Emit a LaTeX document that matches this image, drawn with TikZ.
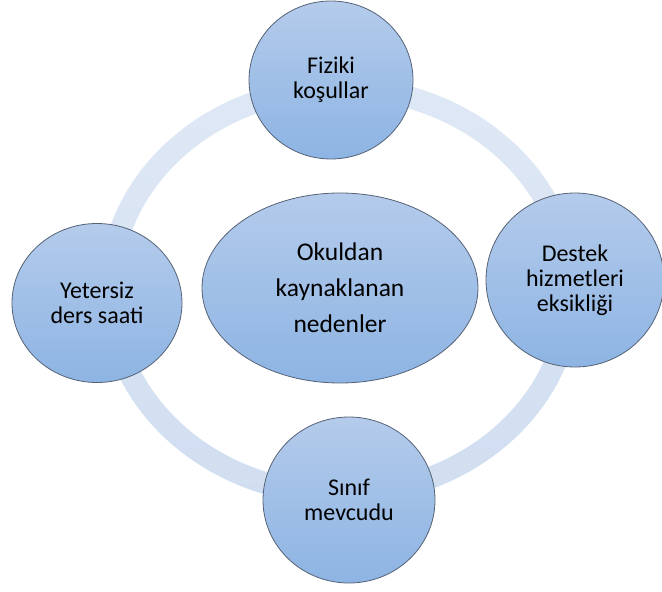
\documentclass[tikz,border=0pt]{standalone}
\usepackage{fontspec}
\setmainfont{Carlito}
\usetikzlibrary{shapes.geometric}
\definecolor{ringtop}{RGB}{223,232,245}
\definecolor{ringbot}{RGB}{208,222,241}
\definecolor{bubtop}{RGB}{180,203,235}
\definecolor{bubbot}{RGB}{141,180,227}
\definecolor{bubline}{RGB}{85,98,118}
\begin{document}
\begin{tikzpicture}[x=1pt,y=-1pt,
  bubble/.style={ellipse, draw=bubline, line width=0.8pt,
    top color=bubtop, bottom color=bubbot, inner sep=0pt,
    align=center, text=black, font=\fontsize{24}{25}\selectfont}]
\useasboundingbox (0,0) rectangle (662,592);
% light cycle ring behind the bubbles
\path[even odd rule, top color=ringtop, bottom color=ringbot]
  (340,291) ellipse [x radius=241pt, y radius=214pt]
  (340,291) ellipse [x radius=219pt, y radius=192pt];
% central topic
\node[bubble, minimum width=276pt, minimum height=190pt,
  font=\fontsize{25.5}{36}\selectfont] (core) at (340,288)
  {Okuldan\\kaynaklanan\\nedenler};
% causes around the ring
\node[bubble, minimum width=164pt, minimum height=158pt] (fiz) at (331,80)
  {Fiziki\\koşullar};
\node[bubble, minimum width=178pt, minimum height=174pt] (des) at (575,280)
  {Destek\\hizmetleri\\eksikliği};
\node[bubble, minimum width=172pt, minimum height=166pt] (sin) at (349,500)
  {Sınıf\\mevcudu};
\node[bubble, minimum width=170pt, minimum height=159pt] (yet) at (97,303)
  {Yetersiz\\ders saati};
\end{tikzpicture}
\end{document}
